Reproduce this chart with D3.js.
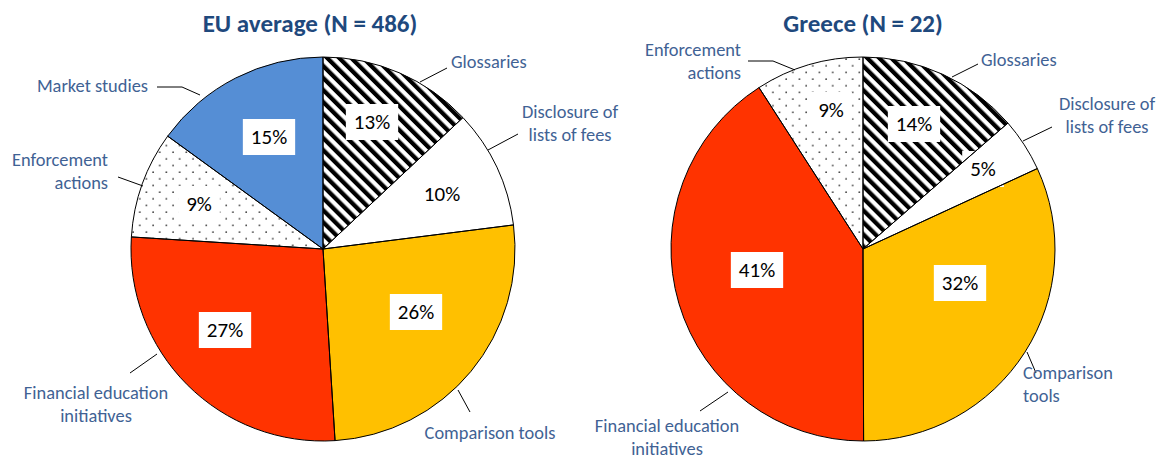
<!DOCTYPE html>
<html>
<head>
<meta charset="utf-8">
<script src="https://cdn.jsdelivr.net/npm/d3@7"></script>
<style>
  html, body { margin: 0; padding: 0; background: #fff; }
  svg { display: block; font-family: Carlito, Calibri, Lato, "Open Sans", sans-serif; }
</style>
</head>
<body>
<svg id="chart" width="1156" height="461"></svg>
<script>
// ---------------- DATA ----------------
const categories = [
  "Glossaries",
  "Disclosure of lists of fees",
  "Comparison tools",
  "Financial education initiatives",
  "Enforcement actions",
  "Market studies"
];
const euValues = [13, 10, 26, 27, 9, 15];
const greeceValues = [13.6, 4.5, 31.8, 40.9, 9.1, 0];
const titles = ["EU average (N = 486)", "Greece (N = 22)"];

// ---------------- STYLE / LAYOUT ----------------
const fills = ["url(#stripes)", "#ffffff", "#ffc000", "#ff3300", "url(#dots)", "#558ed5"];
const titleColor = "#1f497d";
const labelColor = "#3f6294";
const R = 192;

// label text lines per category (outer labels)
const outerText = [
  ["Glossaries"],
  ["Disclosure of", "lists of fees"],
  ["Comparison tools"],
  ["Financial education", "initiatives"],
  ["Enforcement", "actions"],
  ["Market studies"]
];

// layout per pie: offsets relative to pie centre
const pies = [
  {
    values: euValues, title: titles[0], cx: 323, cy: 249, titleX: 310,
    pct: [[49,-127],[119,-55],[93,63],[-98,81],[-124,-45],[-54,-112]],
    outer: [
      { pts: [[97,-167],[124,-181]], tx: 128, ty: -187, anchor: "start", text: outerText[0] },
      { pts: [[165,-99],[195,-115]], tx: 247, ty: -126, anchor: "middle", text: outerText[1] },
      { pts: [[135,141],[147,163]], tx: 167, ty: 184, anchor: "middle", text: ["Comparison tools"] },
      { pts: [[-166,105],[-193,124]], tx: -227, ty: 155, anchor: "middle", text: outerText[3] },
      { pts: [[-180,-63],[-205,-72]], tx: -215, ty: -78, anchor: "end", text: outerText[4] },
      { pts: [[-123,-154],[-141,-162],[-166,-162]], tx: -175, ty: -163, anchor: "end", text: outerText[5] }
    ]
  },
  {
    values: greeceValues, title: titles[1], cx: 863, cy: 249, titleX: 863,
    pct: [[51,-125],[120,-80],[97,34],[-106,21],[-32,-139],[0,0]],
    outer: [
      { pts: [[89,-172],[115,-185]], tx: 118, ty: -189, anchor: "start", text: outerText[0] },
      { pts: [[160,-108],[189,-122]], tx: 244, ty: -134, anchor: "middle", text: outerText[1] },
      { pts: [[164,103],[173,124]], tx: 160, ty: 135, anchor: "start", text: ["Comparison", "tools"] },
      { pts: [[-135,143],[-163,162]], tx: -196, ty: 188, anchor: "middle", text: outerText[3] },
      { pts: [[-68,-179],[-90,-188],[-115,-188]], tx: -122, ty: -188, anchor: "end", text: outerText[4] },
      null
    ]
  }
];

// ---------------- DRAW ----------------
const svg = d3.select("#chart");
const defs = svg.append("defs");

const stripes = defs.append("pattern")
  .attr("id", "stripes").attr("patternUnits", "userSpaceOnUse")
  .attr("width", 8.5).attr("height", 8.5)
  .attr("patternTransform", "rotate(-45)");
stripes.append("rect").attr("width", 8.5).attr("height", 8.5).attr("fill", "#fff");
stripes.append("rect").attr("width", 4.25).attr("height", 8.5).attr("fill", "#000");

const dots = defs.append("pattern")
  .attr("id", "dots").attr("patternUnits", "userSpaceOnUse")
  .attr("width", 13.3).attr("height", 13.3);
dots.append("rect").attr("width", 13.3).attr("height", 13.3).attr("fill", "#fff");
dots.append("circle").attr("cx", 3).attr("cy", 3).attr("r", 0.85).attr("fill", "#333");
dots.append("circle").attr("cx", 9.65).attr("cy", 9.65).attr("r", 0.85).attr("fill", "#333");

const pieGen = d3.pie().sort(null).value(d => d);
const arcGen = d3.arc().innerRadius(0).outerRadius(R);
const fmt = v => d3.format(".0f")(v) + "%";
const lineGen = d3.line();

pies.forEach(p => {
  const g = svg.append("g").attr("transform", `translate(${p.cx},${p.cy})`);
  const arcs = pieGen(p.values).filter(a => a.value > 0);

  g.selectAll("path.slice")
    .data(arcs)
    .join("path")
    .attr("class", "slice")
    .attr("d", arcGen)
    .attr("fill", d => fills[d.index])
    .attr("stroke", "none");

  // percentage labels with white boxes
  arcs.forEach(a => {
    const [dx, dy] = p.pct[a.index];
    const lg = g.append("g").attr("transform", `translate(${dx},${dy})`);
    const rect = lg.append("rect").attr("fill", "#fff");
    const t = lg.append("text")
      .attr("text-anchor", "middle")
      .attr("dy", "0.35em")
      .attr("font-size", 21)
      .attr("fill", "#000")
      .text(fmt(a.value));
    const bb = t.node().getBBox();
    const w = bb.width + 16, h = 36;
    rect.attr("x", -w / 2).attr("y", -h / 2).attr("width", w).attr("height", h);
  });

  // slice outlines on top
  g.selectAll("path.outline")
    .data(arcs)
    .join("path")
    .attr("class", "outline")
    .attr("d", arcGen)
    .attr("fill", "none")
    .attr("stroke", "#000")
    .attr("stroke-width", 1)
    .attr("stroke-linejoin", "round");

  // outer labels + leader lines
  p.outer.forEach(o => {
    if (!o) return;
    g.append("path")
      .attr("d", lineGen(o.pts))
      .attr("fill", "none")
      .attr("stroke", "#000")
      .attr("stroke-width", 1);
    const n = o.text.length;
    const lh = 22.5;
    const t = g.append("text")
      .attr("text-anchor", o.anchor)
      .attr("font-size", 18.4)
      .attr("fill", labelColor);
    o.text.forEach((line, i) => {
      t.append("tspan")
        .attr("x", o.tx)
        .attr("y", o.ty + (i - (n - 1) / 2) * lh)
        .attr("dy", "0.35em")
        .text(line);
    });
  });

  svg.append("text")
    .attr("x", p.titleX)
    .attr("y", 32)
    .attr("text-anchor", "middle")
    .attr("font-size", 25)
    .attr("font-weight", "bold")
    .attr("fill", titleColor)
    .text(p.title);
});
</script>
</body>
</html>
